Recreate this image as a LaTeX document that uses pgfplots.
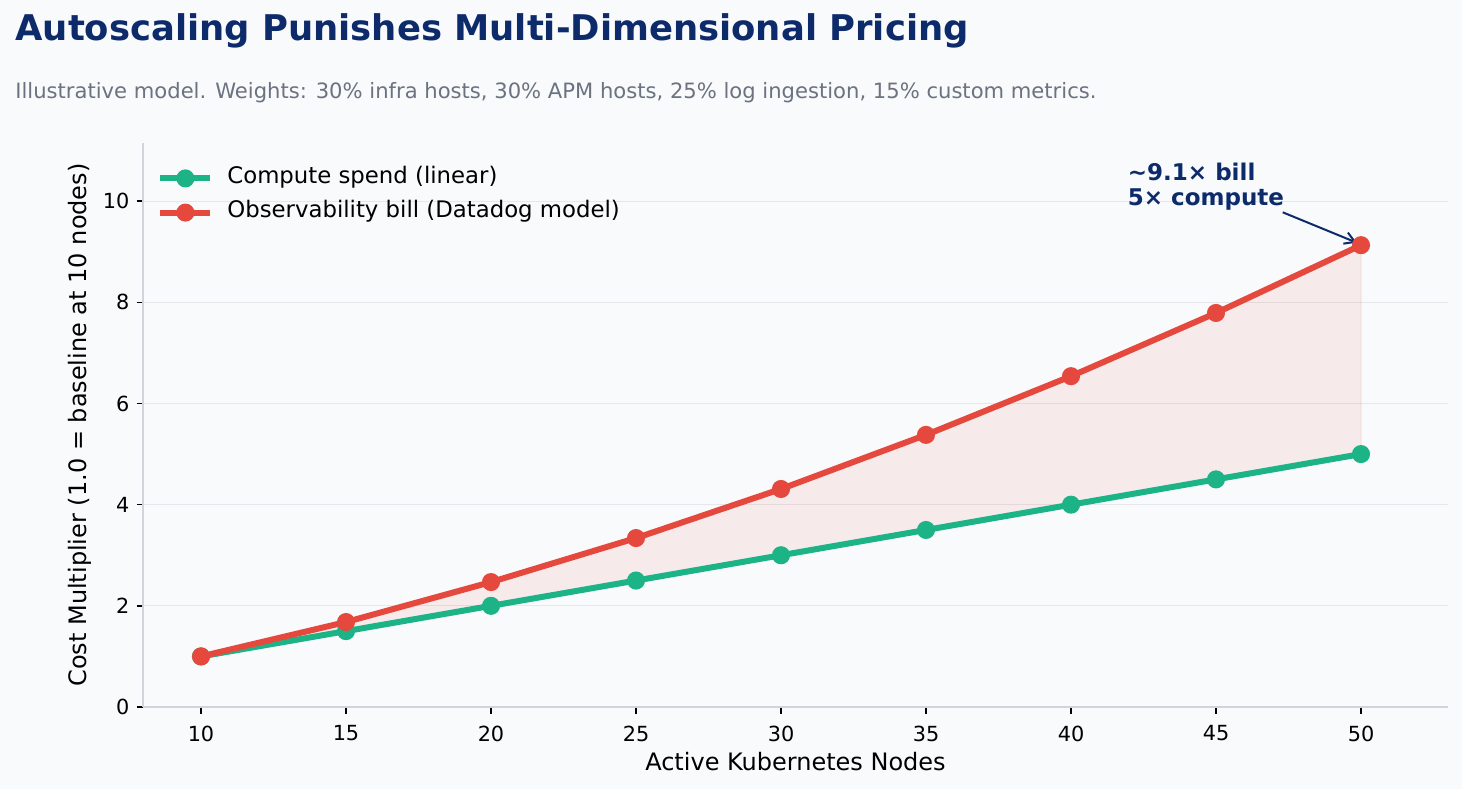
\documentclass[border=0pt]{standalone}
\usepackage{pgfplots}
\pgfplotsset{compat=1.18}
\usepgfplotslibrary{fillbetween}
\usetikzlibrary{arrows.meta}
\usepackage{fontspec}
\setmainfont{DejaVu Sans}

\definecolor{bgcol}{HTML}{F8FAFC}
\definecolor{navy}{HTML}{0D2B6B}
\definecolor{subgray}{HTML}{6B7280}
\definecolor{compgreen}{HTML}{1CB386}
\definecolor{obsred}{HTML}{E5493E}
\definecolor{spinecol}{HTML}{D1D5DB}
\definecolor{gridcol}{HTML}{E5E7EB}

% Cost multipliers relative to the 10-node baseline
\pgfplotstableread{
nodes compute
10 1.0
15 1.5
20 2.0
25 2.5
30 3.0
35 3.5
40 4.0
45 4.5
50 5.0
}\computetable
\pgfplotstableread{
nodes bill
10 1.00
15 1.68
20 2.47
25 3.34
30 4.31
35 5.38
40 6.54
45 7.79
50 9.13
}\billtable

\pagecolor{bgcol}

\begin{document}
\begin{tikzpicture}
\node[anchor=base west, inner sep=0pt, text=navy, font=\fontsize{17.7}{21}\selectfont\bfseries]
  at (7.5pt,374pt) {Autoscaling Punishes Multi-Dimensional Pricing};
\node[anchor=base west, inner sep=0pt, text=subgray, font=\fontsize{10.55}{13}\selectfont]
  at (7.5pt,345pt) {Illustrative model. Weights: 30\% infra hosts, 30\% APM hosts, 25\% log ingestion, 15\% custom metrics.};

\begin{axis}[
  at={(71.5pt,41pt)}, anchor=south west,
  width=652.5pt, height=282pt, scale only axis,
  xmin=8, xmax=53, ymin=0, ymax=11.15,
  xtick={10,15,...,50}, ytick={0,2,...,10},
  axis x line*=bottom, axis y line*=left,
  axis line style={draw=spinecol, line width=0.9pt},
  xtick pos=bottom, ytick pos=left,
  tick align=outside, major tick length=3.25pt,
  every tick/.style={draw=black, line width=0.7pt},
  ymajorgrids, grid style={draw=gridcol, line width=0.5pt},
  /pgf/number format/assume math mode=true,
  ticklabel style={font=\fontsize{10.4}{12}\selectfont},
  xticklabel style={yshift=-2.5pt},
  xlabel={Active Kubernetes Nodes},
  ylabel={Cost Multiplier (1.0 = baseline at 10 nodes)},
  label style={font=\fontsize{12}{14}\selectfont},
  xlabel style={at={(axis description cs:0.5,0)}, anchor=base, yshift=-31.5pt},
  ylabel style={at={(axis description cs:-0.0483,0.5)}, anchor=center},
  legend cell align=left,
  legend image code/.code={\draw[mark repeat=2,mark phase=2,#1] plot coordinates {(0pt,0pt) (12.5pt,0pt) (25pt,0pt)};},
  legend style={at={(axis description cs:0,1)}, anchor=north west,
    xshift=7pt, yshift=-10.5pt, draw=none, fill=none, inner sep=0pt,
    row sep=3.1pt, column sep=5pt, font=\fontsize{11.4}{13}\selectfont,
    nodes={inner sep=2pt, text depth=0.25em, text height=0.75em}},
]
% outline paths for the shaded gap
\addplot[name path=comp, draw=none, forget plot] table[x=nodes, y=compute] {\computetable};
\addplot[name path=obs, draw=none, forget plot] table[x=nodes, y=bill] {\billtable};
\addplot[fill=obsred, fill opacity=0.09, draw=obsred, draw opacity=0.12, line width=0.5pt, forget plot]
  fill between[of=obs and comp];

\addplot[compgreen, line width=3pt, mark=*, mark size=3pt, mark options={solid, draw=none, fill=compgreen}]
  table[x=nodes, y=compute] {\computetable};
\addlegendentry{Compute spend (linear)}
\addplot[obsred, line width=3pt, mark=*, mark size=3pt, mark options={solid, draw=none, fill=obsred}]
  table[x=nodes, y=bill] {\billtable};
\addlegendentry{Observability bill (Datadog model)}

\node[anchor=base west, inner sep=0pt, text=navy, font=\fontsize{11.5}{13}\selectfont\bfseries]
  at (axis cs:41.95,10.41) {\textasciitilde 9.1× bill};
\node[anchor=base west, inner sep=0pt, text=navy, font=\fontsize{11.5}{13}\selectfont\bfseries]
  at (axis cs:41.95,9.92) {5× compute};
\draw[-{Straight Barb[length=5pt,width=6pt]}, navy, line width=1pt]
  (axis cs:47.3,9.78) -- (axis cs:49.85,9.18);
\end{axis}
\pgfresetboundingbox
\path[use as bounding box] (0,0) rectangle (731pt,394.5pt);
\end{tikzpicture}
\end{document}
